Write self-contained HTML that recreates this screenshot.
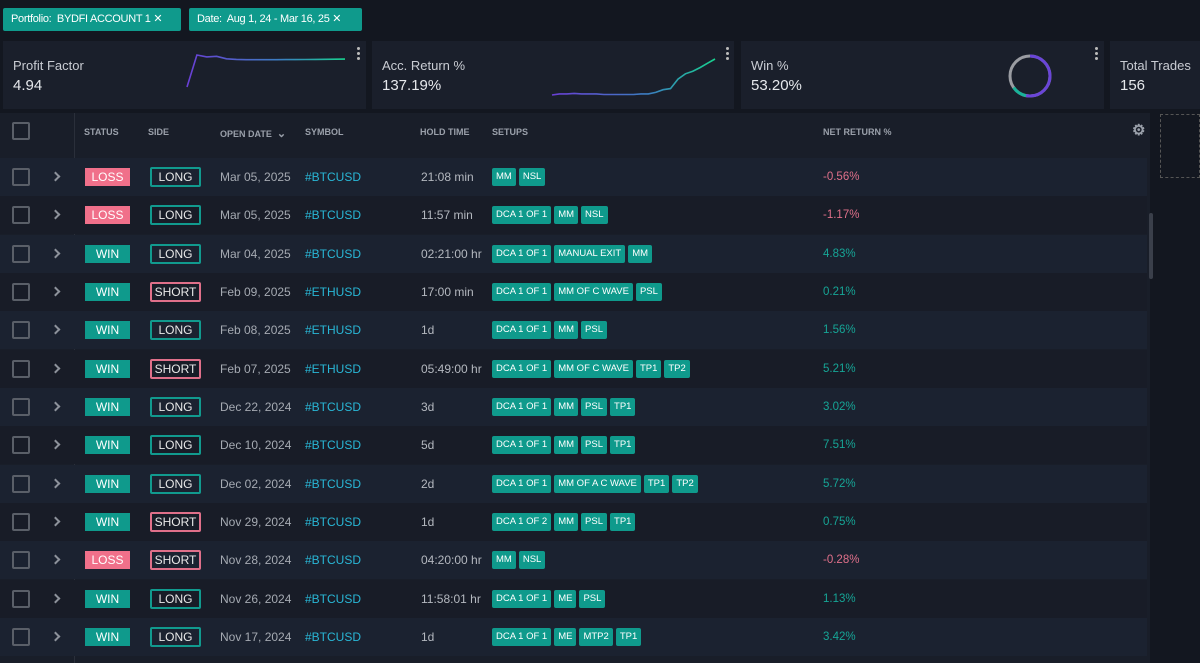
<!DOCTYPE html>
<html><head><meta charset="utf-8">
<style>
*{box-sizing:border-box;margin:0;padding:0}
body{width:1200px;height:663px;background:#131720;font-family:"Liberation Sans",sans-serif;color:#d4d8df;position:relative;overflow:hidden}
.chip{position:absolute;top:8px;height:23px;background:#0f9a8c;color:#fff;font-size:11px;line-height:23px;padding:0 0 0 8px;border-radius:2px;white-space:nowrap;overflow:hidden;letter-spacing:-0.3px}
.card{position:absolute;top:41px;height:68px;background:#1a1f2b}
.card .t{position:absolute;left:10px;top:17px;font-size:13px;color:#c9ccd3;white-space:nowrap}
.card .v{position:absolute;left:10px;top:36px;font-size:15px;color:#e6e8ec}
.dots{position:absolute;top:6px;width:4px}
.dots i{display:block;width:3px;height:3px;background:#bbb;border-radius:2px;margin-bottom:2px}
.tbl{position:absolute;left:0;top:113px;width:1150px;height:550px;background:#191e29}
.hdr{position:absolute;top:0;left:0;width:1150px;height:36px;font-size:9px;font-weight:bold;color:#9aa0aa}
.hdr span{position:absolute;top:14px}
.row{position:absolute;left:0;width:1147px;height:38px;font-size:12px}
.row>*{position:absolute}
.cb{position:absolute;left:12px;width:18px;height:18px;border:2px solid #5a5f68;border-radius:2px;top:10px}
.chev{left:52px;top:15px;width:7px;height:7px;border-right:2px solid #8d929b;border-top:2px solid #8d929b;transform:rotate(45deg)}
.st{left:85px;top:10px;width:45px;height:18px;color:#fff;text-align:center;line-height:18px;font-size:12px}
.sd{left:150px;top:9px;width:51px;height:20px;border:2px solid #119a8e;text-align:center;line-height:16px;color:#e8e8e8;font-size:12px;border-radius:2px}
.sd.s{border-color:#e0708a}
.dt{left:220px;top:12px;color:#a5aab2}
.sy{left:305px;top:12px;color:#29b7d6}
.ht{left:421px;top:12px;color:#b4b8bf}
.su{left:492px;top:10px;display:flex;gap:3px}
.su b{background:#0f9a8c;color:#fff;font-size:9.5px;font-weight:normal;height:18px;line-height:18px;padding:0 4px;border-radius:2px;white-space:nowrap}
.nr{left:823px;top:13px;font-size:11.5px}
</style></head><body>
<div class="chip" style="left:3px;width:178px">Portfolio:&nbsp; BYDFI ACCOUNT 1 ✕</div>
<div class="chip" style="left:189px;width:173px">Date:&nbsp; Aug 1, 24 - Mar 16, 25 ✕</div>

<div class="card" style="left:3px;width:363px">
<div class="t">Profit Factor</div>
<div class="v">4.94</div>
<svg id="pf" width="363" height="68" style="position:absolute;left:0;top:0"></svg>
<div class="dots" style="left:354px"><i></i><i></i><i></i></div>
</div>
<div class="card" style="left:372px;width:362px">
<div class="t">Acc. Return %</div>
<div class="v">137.19%</div>
<svg id="ar" width="362" height="68" style="position:absolute;left:0;top:0"></svg>
<div class="dots" style="left:354px"><i></i><i></i><i></i></div>
</div>
<div class="card" style="left:741px;width:363px">
<div class="t">Win %</div>
<div class="v">53.20%</div>
<svg id="wr" width="363" height="68" style="position:absolute;left:0;top:0"></svg>
<div class="dots" style="left:354px"><i></i><i></i><i></i></div>
</div>
<div class="card" style="left:1110px;width:90px">
<div class="t">Total Trades</div>
<div class="v">156</div>
</div>

<div style="position:absolute;left:1160px;top:114px;width:40px;height:64px;border:1px dashed #555"></div>

<div class="tbl">
<div class="hdr">
<div class="cb" style="top:9px"></div>
<span style="left:84px">STATUS</span><span style="left:148px">SIDE</span>
<span style="left:220px">OPEN DATE &nbsp;<span style="position:static;font-size:11px">⌄</span></span>
<span style="left:305px">SYMBOL</span><span style="left:420px">HOLD TIME</span><span style="left:492px">SETUPS</span><span style="left:823px">NET RETURN %</span>
<span style="left:1132px;top:8px;font-size:15px">⚙</span>
</div>
<div style="position:absolute;left:74px;top:0;width:1px;height:550px;background:#2a2f3a"></div>
<div style="position:absolute;left:1149px;top:100px;width:4px;height:66px;background:#3a3f4a;border-radius:2px"></div>
<div id="rows"></div>
</div>

<script>
const pfValues=[0.5,5.6,5.3,5.4,5.0,4.9,4.85,4.85,4.85,4.85,4.86,4.87,4.88,4.9,4.92,4.93,4.94];
const arValues=[0,2,2,3,2,2,2,1,1,1,1,1,2,2,5,10,12,30,40,45,52,60,68];
const winRate=53.2;
const dates=["Mar 05, 2025","Mar 05, 2025","Mar 04, 2025","Feb 09, 2025","Feb 08, 2025","Feb 07, 2025","Dec 22, 2024","Dec 10, 2024","Dec 02, 2024","Nov 29, 2024","Nov 28, 2024","Nov 26, 2024","Nov 17, 2024"];
const statuses=["LOSS","LOSS","WIN","WIN","WIN","WIN","WIN","WIN","WIN","WIN","LOSS","WIN","WIN"];
const sides=["LONG","LONG","LONG","SHORT","LONG","SHORT","LONG","LONG","LONG","SHORT","SHORT","LONG","LONG"];
const symbols=["#BTCUSD","#BTCUSD","#BTCUSD","#ETHUSD","#ETHUSD","#ETHUSD","#BTCUSD","#BTCUSD","#BTCUSD","#BTCUSD","#BTCUSD","#BTCUSD","#BTCUSD"];
const holds=["21:08 min","11:57 min","02:21:00 hr","17:00 min","1d","05:49:00 hr","3d","5d","2d","1d","04:20:00 hr","11:58:01 hr","1d"];
const setups=[["MM","NSL"],["DCA 1 OF 1","MM","NSL"],["DCA 1 OF 1","MANUAL EXIT","MM"],["DCA 1 OF 1","MM OF C WAVE","PSL"],["DCA 1 OF 1","MM","PSL"],["DCA 1 OF 1","MM OF C WAVE","TP1","TP2"],["DCA 1 OF 1","MM","PSL","TP1"],["DCA 1 OF 1","MM","PSL","TP1"],["DCA 1 OF 1","MM OF A C WAVE","TP1","TP2"],["DCA 1 OF 2","MM","PSL","TP1"],["MM","NSL"],["DCA 1 OF 1","ME","PSL"],["DCA 1 OF 1","ME","MTP2","TP1"]];
const returns=[-0.56,-1.17,4.83,0.21,1.56,5.21,3.02,7.51,5.72,0.75,-0.28,1.13,3.42];

const NS="http://www.w3.org/2000/svg";
function spark(svg,vals,x0,x1,y0,y1,id){
  const mn=Math.min(...vals),mx=Math.max(...vals);
  const sx=i=>x0+(x1-x0)*i/(vals.length-1), sy=v=>y1-(y1-y0)*(v-mn)/(mx-mn||1);
  const d=vals.map((v,i)=>(i?"L":"M")+sx(i).toFixed(1)+","+sy(v).toFixed(1)).join("");
  svg.innerHTML=`<defs><linearGradient id="${id}" x1="0" x2="1"><stop offset="0" stop-color="#6a3fd6"/><stop offset="0.6" stop-color="#3a7fc0"/><stop offset="1" stop-color="#17d28f"/></linearGradient></defs>`;
  const p=document.createElementNS(NS,"path");
  
  
  p.setAttribute("d",d);p.setAttribute("fill","none");p.setAttribute("stroke","url(#"+id+")");p.setAttribute("stroke-width","1.6");
  svg.appendChild(p);
}
spark(document.getElementById("pf"),pfValues,184,342,14,46,"g1");
spark(document.getElementById("ar"),arValues,180,343,18,54,"g2");
(function(){
  const svg=document.getElementById("wr"),cx=289,cy=35,r=20,C=2*Math.PI*r;
  const bg=document.createElementNS(NS,"circle");
  
  
  bg.setAttribute("cx",cx);bg.setAttribute("cy",cy);bg.setAttribute("r",r);bg.setAttribute("fill","none");bg.setAttribute("stroke","#9a9ca2");bg.setAttribute("stroke-width","3");
  svg.appendChild(bg);
  const a=document.createElementNS(NS,"circle");
  
  
  a.setAttribute("cx",cx);a.setAttribute("cy",cy);a.setAttribute("r",r);a.setAttribute("fill","none");a.setAttribute("stroke","#6a45d8");a.setAttribute("stroke-width","3");
  a.setAttribute("stroke-dasharray",(C*winRate/100)+" "+C);a.setAttribute("transform",`rotate(-90 ${cx} ${cy})`);
  svg.appendChild(a);
  const t=document.createElementNS(NS,"circle");
  
  
  t.setAttribute("cx",cx);t.setAttribute("cy",cy);t.setAttribute("r",r);t.setAttribute("fill","none");t.setAttribute("stroke","#18b39a");t.setAttribute("stroke-width","3");
  t.setAttribute("stroke-dasharray",(C*0.12)+" "+C);t.setAttribute("transform",`rotate(${-90+360*winRate/100} ${cx} ${cy})`);
  svg.appendChild(t);
})();
const rows=document.getElementById("rows");
dates.forEach((d,i)=>{
  const r=document.createElement("div");
  
  
  r.className="row";r.style.top=(45+i*38.33)+"px";r.style.background=i%2?"#181c27":"#1b2230";
  const win=statuses[i]==="WIN", ret=returns[i];
  r.innerHTML=`<div class="cb"></div><div class="chev"></div>
<div class="st" style="background:${win?"#0f9a8c":"#f0708a"}">${statuses[i]}</div>
<div class="sd ${sides[i]==="SHORT"?"s":""}">${sides[i]}</div>
<div class="dt">${d}</div><div class="sy">${symbols[i]}</div>
<div class="ht">${holds[i]}</div>
<div class="su">${setups[i].map(s=>"<b>"+s+"</b>").join("")}</div>
<div class="nr" style="color:${ret<0?"#e0708a":"#16a596"}">${ret.toFixed(2)}%</div>`;
  rows.appendChild(r);
});
</script>
</body></html>
